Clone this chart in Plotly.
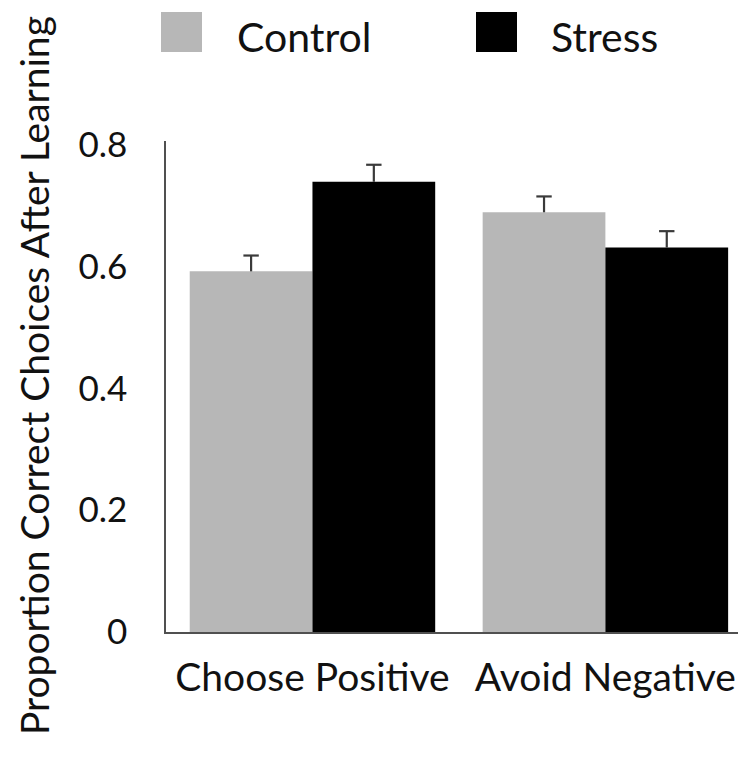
import plotly.graph_objects as go

categories = ["Choose Positive", "Avoid Negative"]
series_names = ["Control", "Stress"]
control_values = [0.592, 0.689]
stress_values = [0.739, 0.631]
control_err = [0.026, 0.026]
stress_err = [0.028, 0.027]
y_ticks = [0, 0.2, 0.4, 0.6, 0.8]
y_tick_labels = ["0", "0.2", "0.4", "0.6", "0.8"]
colors = ["#b7b7b7", "#000000"]

FONT = "Lato"
TXT = "#111111"
# page has an 8px body margin, so figure is sized to fill the rest
W, H = 738, 750
L, R, T, B = 158, 0, 133, 126
PW, PH = W - L - R, H - T - B


def px(x):
    return (x - L) / PW


def py(y):
    return (H - B - y) / PH


fig = go.Figure()
for name, vals, errs, col in zip(series_names, [control_values, stress_values],
                                 [control_err, stress_err], colors):
    fig.add_trace(go.Bar(
        x=categories, y=vals, name=name, offsetgroup=name,
        marker=dict(color=col, line=dict(width=0)), showlegend=False,
    ))
    tops = [v + e for v, e in zip(vals, errs)]
    fig.add_trace(go.Scatter(
        x=categories, y=tops, name=name + " SE", offsetgroup=name, mode="markers",
        marker=dict(symbol="line-ew", size=11, color="#3a3a3a",
                    line=dict(width=2.2, color="#3a3a3a")),
        error_y=dict(type="data", array=[0] * len(errs), arrayminus=errs, symmetric=False,
                     color="#3a3a3a", thickness=2.2, width=0),
        showlegend=False, hoverinfo="skip",
    ))

fig.update_layout(
    width=W, height=H,
    margin=dict(l=L, r=R, t=T, b=B, autoexpand=False),
    paper_bgcolor="white", plot_bgcolor="white",
    barmode="group", bargap=0.162, bargroupgap=0,
    scattermode="group", scattergap=0.162,
    font=dict(family=FONT, size=34, color=TXT),
    xaxis=dict(range=[-0.5, 1.48], showline=True, linecolor="#505050", linewidth=1.5,
               ticks="", showgrid=False, zeroline=False, ticklabelstandoff=10,
               tickfont=dict(size=39)),
    yaxis=dict(range=[0, 0.806], showline=True, linecolor="#505050", linewidth=1.5,
               tickvals=y_ticks, ticktext=y_tick_labels, ticks="", showgrid=False,
               zeroline=False, ticklabelstandoff=30, tickfont=dict(size=35)),
)

# custom legend (large swatches)
legend_sq_x = [153, 468]
legend_txt_x = [228, 542]
for i, (name, col) in enumerate(zip(series_names, colors)):
    x0 = legend_sq_x[i]
    fig.add_shape(type="rect", xref="paper", yref="paper",
                  x0=px(x0), x1=px(x0 + 41), y0=py(44), y1=py(4),
                  fillcolor=col, line=dict(width=0))
    fig.add_annotation(xref="paper", yref="paper", x=px(legend_txt_x[i]), y=py(28),
                       xanchor="left", yanchor="middle", text=name, showarrow=False,
                       font=dict(size=41, family=FONT, color=TXT), borderpad=0)

fig.add_annotation(xref="paper", yref="paper", x=px(26), y=py(368),
                   xanchor="center", yanchor="middle",
                   text="Proportion Correct Choices After Learning", textangle=-90,
                   showarrow=False, font=dict(size=39, family=FONT, color=TXT))

fig.write_html("out.html")
